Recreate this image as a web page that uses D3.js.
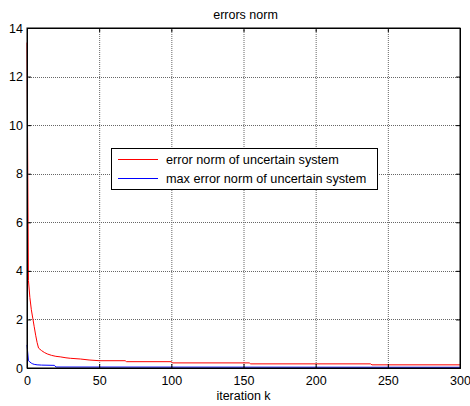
<!DOCTYPE html>
<html><head><meta charset="utf-8">
<script src="https://cdn.jsdelivr.net/npm/d3@7"></script>
<style>body{margin:0;background:#fff}svg{display:block}text{font-family:"Liberation Sans",Arial,sans-serif}</style>
</head><body><svg id="c" width="470" height="406"></svg>
<script>
const title = "errors norm";
const xLabel = "iteration k";
const seriesNames = ["error norm of uncertain system", "max error norm of uncertain system"];
const seriesColors = ["#ff0000", "#0000ff"];
const xTicks = [0, 50, 100, 150, 200, 250, 300];
const yTicks = [0, 2, 4, 6, 8, 10, 12, 14];
// red: error norm (k, value)
const redK = [0, 1, 2, 3, 4, 5, 6, 7, 8, 9, 10, 12, 14, 17, 20, 23, 27, 30, 37, 43, 50, 68, 69, 100, 101, 154, 155, 238, 239, 300];
const redV = [13.4, 3.6, 2.9, 2.4, 2.05, 1.7, 1.35, 1.05, 0.82, 0.77, 0.72, 0.64, 0.58, 0.52, 0.48, 0.46, 0.42, 0.40, 0.37, 0.33, 0.30, 0.30, 0.26, 0.26, 0.21, 0.21, 0.17, 0.17, 0.13, 0.13];
// blue: max error norm
const blueK = [0, 1, 2, 3, 4, 5, 7, 10, 18, 19, 20, 300];
const blueV = [0.95, 0.30, 0.25, 0.20, 0.17, 0.15, 0.13, 0.12, 0.11, 0.11, 0.04, 0.03];

const svg = d3.select("#c");
const L = 27, R = 460, T = 28, B = 368;
const x = d3.scaleLinear().domain([0, 300]).range([L, R]);
const y = d3.scaleLinear().domain([0, 14]).range([B, T]);

// grid
const g = svg.append("g");
g.selectAll(".gx").data(xTicks.slice(1, -1)).enter().append("line")
  .attr("x1", d => x(d) + 0.5).attr("x2", d => x(d) + 0.5).attr("y1", T).attr("y2", B)
  .attr("stroke", "#666").attr("stroke-dasharray", "1,1");
g.selectAll(".gy").data(yTicks.slice(1, -1)).enter().append("line")
  .attr("y1", d => Math.round(y(d)) + 0.5).attr("y2", d => Math.round(y(d)) + 0.5).attr("x1", L).attr("x2", R)
  .attr("stroke", "#666").attr("stroke-dasharray", "1,1");

// lines
const line = d3.line().x(d => x(d[0])).y(d => y(d[1]));
svg.append("path").datum(redK.map((k, i) => [k, redV[i]])).attr("d", line)
  .attr("fill", "none").attr("stroke", seriesColors[0]).attr("stroke-width", 1);
svg.append("path").datum(blueK.map((k, i) => [k, blueV[i]])).attr("d", line)
  .attr("fill", "none").attr("stroke", seriesColors[1]).attr("stroke-width", 1);

// axes
svg.append("g").attr("transform", `translate(0,${B})`)
  .call(d3.axisBottom(x).tickValues(xTicks).tickSize(-4).tickPadding(8).tickFormat(d3.format("d")));
svg.append("g").attr("transform", `translate(${L},0)`)
  .call(d3.axisLeft(y).tickValues(yTicks).tickSize(-4).tickPadding(4).tickFormat(d3.format("d")));
svg.append("g").attr("transform", `translate(0,${T})`)
  .call(d3.axisTop(x).tickValues(xTicks).tickSize(-4).tickFormat(""));
svg.append("g").attr("transform", `translate(${R},0)`)
  .call(d3.axisRight(y).tickValues(yTicks).tickSize(-4).tickFormat(""));
svg.selectAll(".domain").attr("stroke", "#000");
svg.selectAll(".tick line").attr("stroke", "#000");
svg.selectAll(".tick text").attr("font-size", 12.5).attr("fill", "#000")
  .attr("font-family", '"Liberation Sans",Arial,sans-serif');
svg.append("rect").attr("x", L).attr("y", T).attr("width", R - L).attr("height", B - T)
  .attr("fill", "none").attr("stroke", "#000").attr("stroke-width", 1);

// title & label
svg.append("text").attr("x", (L + R) / 2 + 2).attr("y", 19).attr("text-anchor", "middle")
  .attr("font-size", 12.5).text(title);
svg.append("text").attr("x", (L + R) / 2).attr("y", 400).attr("text-anchor", "middle")
  .attr("font-size", 12.5).text(xLabel);

// legend
const lg = svg.append("g");
lg.append("rect").attr("x", 111.5).attr("y", 148.5).attr("width", 266).attr("height", 41)
  .attr("fill", "#fff").attr("stroke", "#000");
seriesNames.forEach((n, i) => {
  const yy = 159.5 + i * 19;
  lg.append("line").attr("x1", 118).attr("x2", 158).attr("y1", yy).attr("y2", yy)
    .attr("stroke", seriesColors[i]);
  lg.append("text").attr("x", 166).attr("y", yy + 4.5).attr("font-size", 12.7).text(n);
});
</script></body></html>
